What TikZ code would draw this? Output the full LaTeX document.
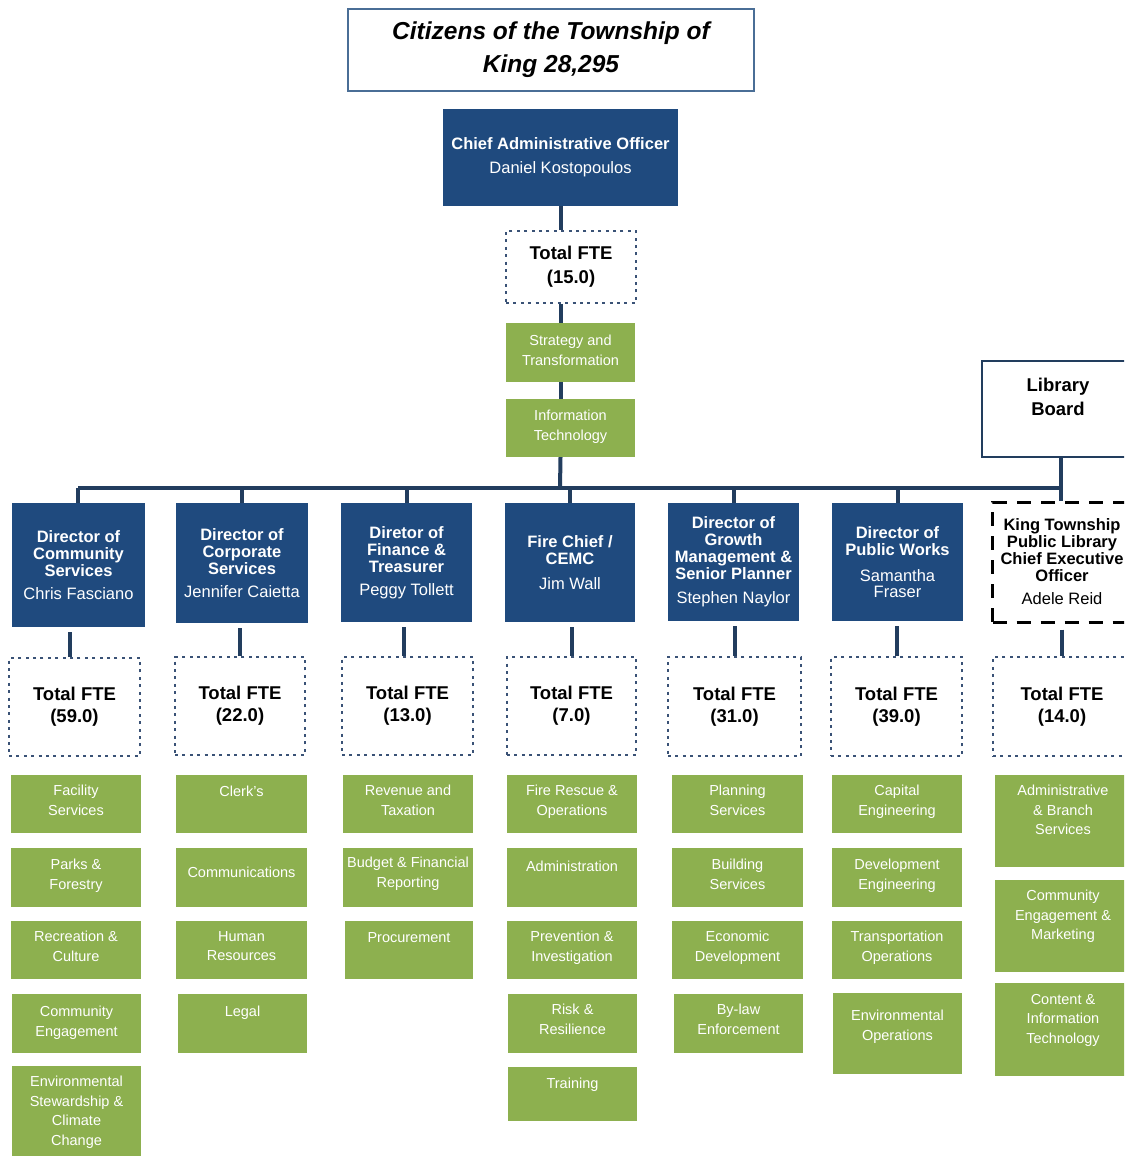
\documentclass[tikz,border=0pt]{standalone}
\usepackage{fontspec}
\setmainfont{Liberation Sans}
\definecolor{navy}{HTML}{1F4A7E}
\definecolor{linec}{HTML}{223D5E}
\definecolor{dotc}{HTML}{3A5276}
\definecolor{citc}{HTML}{4A6E96}
\definecolor{leaf}{HTML}{8DB04F}
\tikzset{
  conn/.style={draw=linec, line width=4pt},
  busline/.style={draw=linec, line width=3.2pt},
  navybox/.style={fill=navy, draw=none, text=white, align=center, inner sep=0pt},
  ftebox/.style={draw=dotc, line width=2.6pt, dash pattern=on 3pt off 4.4pt, fill=white, align=center, inner sep=0pt,
     font=\fontsize{18.5}{22}\selectfont\bfseries},
  gbox/.style={fill=leaf, draw=none, inner sep=0pt},
  gtext/.style={anchor=north, inner sep=0pt, align=center, text=white, font=\fontsize{14.5}{19.5}\selectfont},
  dirfont/.style={font=\fontsize{16.5}{17}\selectfont},
}
\newcommand{\gbox}[7]{%
  \pgfmathsetmacro{\gbW}{#4-#2}%
  \pgfmathsetmacro{\gbH}{#5-#3}%
  \node[gbox, minimum width=\gbW pt, minimum height=\gbH pt] (#1) at ({(#2+#4)/2},{(#3+#5)/2}) {};%
  \node[gtext] (#1-t) at ({(#2+#4)/2},{#6-6}) {#7};%
}
\newcommand{\dirbox}[6]{%
  \pgfmathsetmacro{\gbW}{#4-#2}%
  \pgfmathsetmacro{\gbH}{#5-#3}%
  \node[navybox, dirfont, minimum width=\gbW pt, minimum height=\gbH pt] (#1) at ({(#2+#4)/2},{(#3+#5)/2}) {#6};%
}
\newcommand{\ftebox}[6]{%
  \pgfmathsetmacro{\gbW}{#4-#2}%
  \pgfmathsetmacro{\gbH}{#5-#3}%
  \node[ftebox, minimum width=\gbW pt, minimum height=\gbH pt] (#1) at ({(#2+#4)/2},{(#3+#5)/2}) {#6};%
}
\begin{document}
\begin{tikzpicture}[x=1pt, y=-1pt]
\useasboundingbox (0,0) rectangle (1124,1156);
\fill[white] (0,0) rectangle (1124,1156);
\clip (0,0) rectangle (1124,1156);

% top
\node[draw=citc, line width=2.4pt, minimum width=406pt, minimum height=82pt, align=center, inner sep=0pt,
  font=\fontsize{24.5}{33}\selectfont\bfseries\itshape] (cit) at (551,50) {Citizens of the Township of\\King 28,295};
\node[navybox, minimum width=235pt, minimum height=97pt, font=\fontsize{16.5}{24}\selectfont] (cao) at (560.5,157.5)
  {\textbf{Chief Administrative Officer}\\Daniel Kostopoulos};
\ftebox{fte0}{506}{231}{636}{303}{Total FTE\\[2pt](15.0)}
\gbox{strat}{506}{323}{635}{382}{341}{Strategy and\\Transformation}
\gbox{it}{506}{399}{635}{457}{416}{Information\\Technology}

% library board
\node[draw=linec, line width=2.6pt, fill=white, minimum width=158pt, minimum height=96pt, inner sep=0pt] (lb) at (1061,409) {};
\node[anchor=north, inner sep=0pt, align=center, font=\fontsize{18.5}{24}\selectfont\bfseries] (lb-t) at (1058,378) {Library\\Board};

% bus
\coordinate (busL) at (78,488);
\coordinate (busR) at (1061,488);
\coordinate (busC) at (560,488);

% directors
\dirbox{d1}{12}{503}{145}{627}{\bfseries Director of\\\bfseries Community\\\bfseries Services\\[6pt]Chris Fasciano}
\dirbox{d2}{176}{503}{308}{623}{\bfseries Director of\\\bfseries Corporate\\\bfseries Services\\[6pt]Jennifer Caietta}
\dirbox{d3}{341}{503}{472}{622}{\bfseries Diretor of\\\bfseries Finance \&\\\bfseries Treasurer\\[6pt]Peggy Tollett}
\dirbox{d4}{505}{503}{635}{622}{\bfseries Fire Chief /\\\bfseries CEMC\\[8pt]Jim Wall}
\dirbox{d5}{668}{503}{799}{621}{\bfseries Director of\\\bfseries Growth\\\bfseries Management \&\\\bfseries Senior Planner\\[7pt]Stephen Naylor}
\dirbox{d6}{832}{503}{963}{621}{\bfseries Director of\\\bfseries Public Works\\[9pt]Samantha\\[-1pt]Fraser}
\node[draw=black, line width=3pt, dash pattern=on 14pt off 10pt, fill=white, dirfont, align=center, inner sep=0pt,
  minimum width=139pt, minimum height=120pt] (lib) at (1062,562)
  {\bfseries King Township\\\bfseries Public Library\\\bfseries Chief Executive\\\bfseries Officer\\[6pt]Adele Reid};

% FTE boxes
\ftebox{f1}{9}{658}{140}{756}{Total FTE\\(59.0)}
\ftebox{f2}{175}{657}{305}{755}{Total FTE\\(22.0)}
\ftebox{f3}{342}{657}{473}{755}{Total FTE\\(13.0)}
\ftebox{f4}{507}{657}{636}{755}{Total FTE\\(7.0)}
\ftebox{f5}{668}{657}{801}{756}{Total FTE\\(31.0)}
\ftebox{f6}{831}{657}{962}{756}{Total FTE\\(39.0)}
\ftebox{f7}{993}{657}{1131}{756}{Total FTE\\(14.0)}

% connectors
\draw[conn] (cao.south) -- (cao.south |- fte0.north);
\draw[conn] ([xshift=-10pt]strat.north |- fte0.south) -- ([xshift=-10pt]strat.north);
\draw[conn] ([xshift=-10pt]strat.south) -- ([xshift=-10pt]it.north);
\draw[conn] ([xshift=-10pt]it.south) -- (busC);
\draw[busline] (busL) -- (busR);
\draw[conn] (busL) -- (busL |- d1.north);
\draw[conn] (d2.north |- busL) -- (d2.north);
\draw[conn] (d3.north |- busL) -- (d3.north);
\draw[conn] (d4.north |- busL) -- (d4.north);
\draw[conn] (d5.north |- busL) -- (d5.north);
\draw[conn] (d6.north |- busL) -- (d6.north);
\draw[conn] (lb.south) -- (lb.south |- lib.north);
\draw[conn] ([xshift=-5pt,yshift=-5pt]f1.north |- d1.south) -- ([xshift=-5pt]f1.north);
\draw[conn] ([yshift=-5pt]f2.north |- d2.south) -- (f2.north);
\draw[conn] ([xshift=-4pt,yshift=-5pt]f3.north |- d3.south) -- ([xshift=-4pt]f3.north);
\draw[conn] ([yshift=-5pt]f4.north |- d4.south) -- (f4.north);
\draw[conn] ([yshift=-5pt]f5.north |- d5.south) -- (f5.north);
\draw[conn] ([yshift=-5pt]f6.north |- d6.south) -- (f6.north);
\draw[conn] ([yshift=-6pt]lib.south) -- (lib.south |- f7.north);

% column 1
\gbox{c1a}{11}{775}{141}{833}{791}{Facility\\Services}
\gbox{c1b}{11}{848}{141}{907}{865}{Parks \&\\Forestry}
\gbox{c1c}{11}{921}{141}{979}{937}{Recreation \&\\Culture}
\gbox{c1d}{12}{994}{141}{1053}{1012}{Community\\Engagement}
\gbox{c1e}{12}{1066}{141}{1160}{1082}{Environmental\\Stewardship \&\\Climate\\Change}
% column 2
\gbox{c2a}{176}{775}{307}{833}{792}{Clerk's}
\gbox{c2b}{176}{848}{307}{907}{873}{Communications}
\gbox{c2c}{176}{921}{307}{979}{937}{Human\\Resources}
\gbox{c2d}{178}{994}{307}{1053}{1012}{Legal}
% column 3
\gbox{c3a}{343}{775}{473}{833}{791}{Revenue and\\Taxation}
\gbox{c3b}{343}{848}{473}{907}{863}{Budget \& Financial\\Reporting}
\gbox{c3c}{345}{921}{473}{979}{938}{Procurement}
% column 4
\gbox{c4a}{507}{775}{637}{833}{791}{Fire Rescue \&\\Operations}
\gbox{c4b}{507}{848}{637}{907}{867}{Administration}
\gbox{c4c}{507}{921}{637}{979}{937}{Prevention \&\\Investigation}
\gbox{c4d}{508}{994}{637}{1053}{1010}{Risk \&\\Resilience}
\gbox{c4e}{508}{1067}{637}{1121}{1084}{Training}
% column 5
\gbox{c5a}{672}{775}{803}{833}{791}{Planning\\Services}
\gbox{c5b}{672}{848}{803}{907}{865}{Building\\Services}
\gbox{c5c}{672}{921}{803}{979}{937}{Economic\\Development}
\gbox{c5d}{674}{994}{803}{1053}{1010}{By-law\\Enforcement}
% column 6
\gbox{c6a}{832}{775}{962}{833}{791}{Capital\\Engineering}
\gbox{c6b}{832}{848}{962}{907}{865}{Development\\Engineering}
\gbox{c6c}{832}{921}{962}{979}{937}{Transportation\\Operations}
\gbox{c6d}{833}{993}{962}{1074}{1016}{Environmental\\Operations}
% column 7
\gbox{c7a}{995}{775}{1131}{867}{791}{Administrative\\\& Branch\\Services}
\gbox{c7b}{995}{880}{1131}{972}{896}{Community\\Engagement \&\\Marketing}
\gbox{c7c}{995}{983}{1131}{1076}{1000}{Content \&\\Information\\Technology}
\end{tikzpicture}
\end{document}
